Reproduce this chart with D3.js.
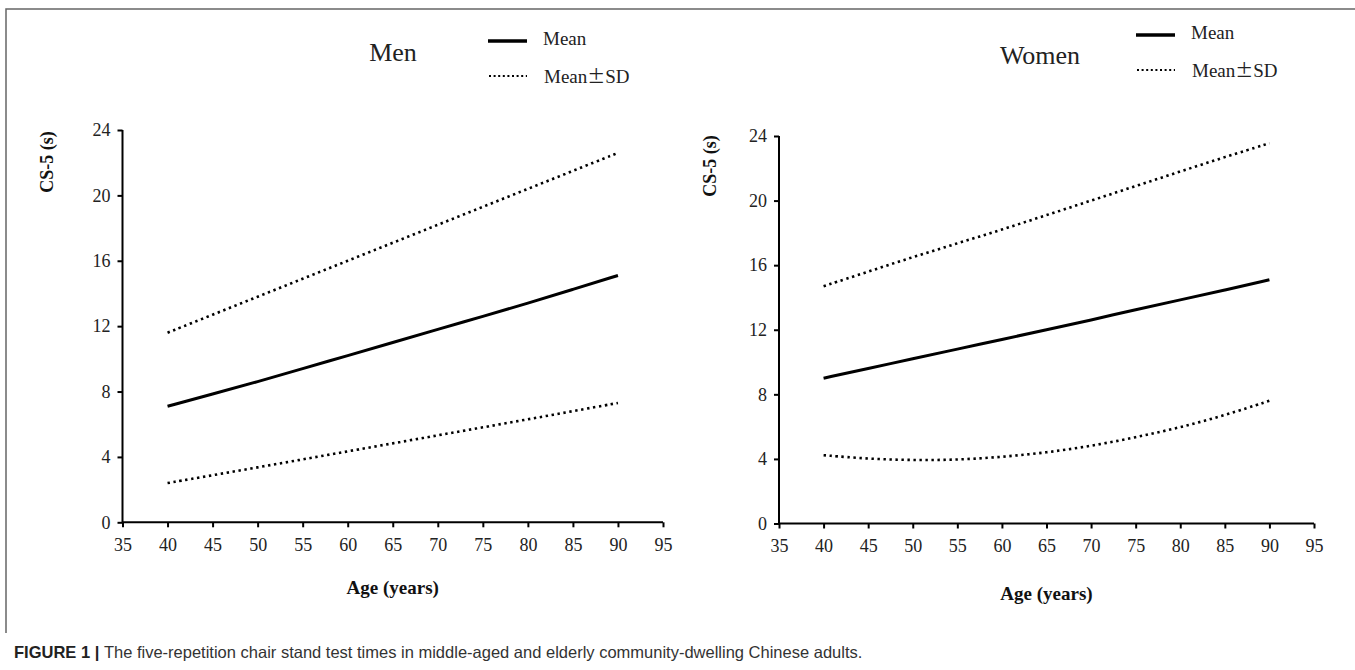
<!DOCTYPE html>
<html>
<head>
<meta charset="utf-8">
<script src="https://cdn.jsdelivr.net/npm/d3@7"></script>
<style>
  body { margin: 0; background: #fff; }
  svg { display: block; }
</style>
</head>
<body>
<div id="chart"></div>
<script>
// 데이터
const ages = [40, 45, 50, 55, 60, 65, 70, 75, 80, 85, 90];
const xTicks = [35, 40, 45, 50, 55, 60, 65, 70, 75, 80, 85, 90, 95];
const yTicks = [0, 4, 8, 12, 16, 20, 24];

const menMean = [7.1, 7.85, 8.6, 9.4, 10.2, 11.0, 11.8, 12.6, 13.4, 14.25, 15.1];
const menUpper = [11.6, 12.7, 13.8, 14.9, 16.0, 17.1, 18.2, 19.3, 20.4, 21.5, 22.6];
const menLower = [2.4, 2.88, 3.36, 3.85, 4.34, 4.83, 5.32, 5.81, 6.3, 6.8, 7.3];

const womenMean = [9.0, 9.6, 10.2, 10.8, 11.4, 12.0, 12.6, 13.25, 13.85, 14.45, 15.1];
const womenUpper = [14.7, 15.6, 16.5, 17.35, 18.2, 19.1, 20.0, 20.9, 21.8, 22.7, 23.55];
const womenLower = [4.23, 4.0, 3.92, 3.94, 4.12, 4.39, 4.8, 5.33, 5.95, 6.7, 7.6];

const width = 1355;
const height = 670;
const serif = '"Liberation Serif", "Times New Roman", serif';

const svg = d3.select('#chart')
  .append('svg')
  .attr('width', width)
  .attr('height', height);

// 테두리
svg.append('path')
  .attr('d', 'M6,633 V9 H1355')
  .attr('fill', 'none')
  .attr('stroke', '#666')
  .attr('stroke-width', 1.5);

function drawPanel(p) {
  const x = d3.scaleLinear().domain([35, 95]).range([p.left, p.right]);
  const y = d3.scaleLinear().domain([0, 24]).range([p.bottom, p.top]);

  const g = svg.append('g');

  // 축
  const xAxis = g.append('g')
    .attr('transform', `translate(0,${p.bottom})`)
    .call(d3.axisBottom(x).tickValues(xTicks).tickSizeOuter(5).tickSizeInner(5).tickPadding(11));
  const yAxis = g.append('g')
    .attr('transform', `translate(${p.left},0)`)
    .call(d3.axisLeft(y).tickValues(yTicks).tickSizeOuter(5).tickSizeInner(5).tickPadding(7));

  [xAxis, yAxis].forEach(a => {
    a.attr('font-family', null);
    a.select('.domain').attr('stroke', '#000').attr('stroke-width', 2);
    a.selectAll('.tick line').attr('stroke', '#000').attr('stroke-width', 2);
    a.selectAll('.tick text')
      .attr('fill', '#222')
      .style('font-family', serif)
      .style('font-size', '18px');
  });
  xAxis.select('.domain').attr('d', `M${p.left},0H${p.right}`);
  yAxis.select('.domain').attr('d', `M0,${p.bottom}V${p.top}`);

  // 라인
  const line = d3.line()
    .x((d, i) => x(ages[i]))
    .y(d => y(d))
    .curve(d3.curveBasis);

  [p.upper, p.lower].forEach(s => {
    g.append('path')
      .datum(s)
      .attr('fill', 'none')
      .attr('stroke', '#000')
      .attr('stroke-width', 2.6)
      .attr('stroke-dasharray', '2.4 3.6')
      .attr('d', line);
  });

  g.append('path')
    .datum(p.mean)
    .attr('fill', 'none')
    .attr('stroke', '#000')
    .attr('stroke-width', 3)
    .attr('d', line);

  // 제목
  g.append('text')
    .attr('x', p.titleX)
    .attr('y', p.titleY)
    .attr('text-anchor', 'middle')
    .style('font-family', serif)
    .style('font-size', '26px')
    .attr('fill', '#222')
    .text(p.title);

  // 범례
  g.append('line')
    .attr('x1', p.legX).attr('x2', p.legX + 39)
    .attr('y1', p.legY).attr('y2', p.legY)
    .attr('stroke', '#000').attr('stroke-width', 3.5);
  g.append('text')
    .attr('x', p.legX + 55).attr('y', p.legY + 4)
    .style('font-family', serif).style('font-size', '19px')
    .attr('fill', '#222')
    .text('Mean');

  g.append('line')
    .attr('x1', p.legX + 1).attr('x2', p.legX + 39)
    .attr('y1', p.legY + 35).attr('y2', p.legY + 35)
    .attr('stroke', '#000').attr('stroke-width', 2)
    .attr('stroke-dasharray', '2 2.6');
  const sd = g.append('text')
    .attr('x', p.legX + 56).attr('y', p.legY + 42)
    .style('font-family', serif).style('font-size', '19px')
    .attr('fill', '#222');
  sd.append('tspan').text('Mean');
  sd.append('tspan').style('font-family', '"Noto Sans CJK SC"').style('font-size', '18px').text('±');
  sd.append('tspan').text('SD');

  // 축 제목
  g.append('text')
    .attr('transform', `translate(${p.yLabelX},${p.yLabelY}) rotate(-90)`)
    .attr('text-anchor', 'middle')
    .style('font-family', serif)
    .style('font-size', '18px')
    .style('font-weight', 'bold')
    .attr('fill', '#111')
    .text('CS-5 (s)');

  g.append('text')
    .attr('x', (p.left + p.right) / 2)
    .attr('y', p.xLabelY)
    .attr('text-anchor', 'middle')
    .style('font-family', serif)
    .style('font-size', '19px')
    .style('font-weight', 'bold')
    .attr('fill', '#111')
    .text('Age (years)');
}

drawPanel({
  title: 'Men', mean: menMean, upper: menUpper, lower: menLower,
  left: 122.5, right: 663, top: 130, bottom: 522.3,
  titleX: 393, titleY: 61, legX: 488, legY: 41,
  yLabelX: 53, yLabelY: 162, xLabelY: 594
});

drawPanel({
  title: 'Women', mean: womenMean, upper: womenUpper, lower: womenLower,
  left: 779, right: 1314, top: 136, bottom: 523.5,
  titleX: 1040, titleY: 64, legX: 1136, legY: 35,
  yLabelX: 716, yLabelY: 166, xLabelY: 600
});

// 캡션
const cap = svg.append('text')
  .attr('x', 14)
  .attr('y', 658)
  .style('font-family', '"Liberation Sans", Arial, sans-serif')
  .style('font-size', '16.5px')
  .attr('fill', '#333');
cap.append('tspan').style('font-weight', 'bold').attr('fill', '#222').text('FIGURE 1 | ');
cap.append('tspan').text('The five-repetition chair stand test times in middle-aged and elderly community-dwelling Chinese adults.');
</script>
</body>
</html>
